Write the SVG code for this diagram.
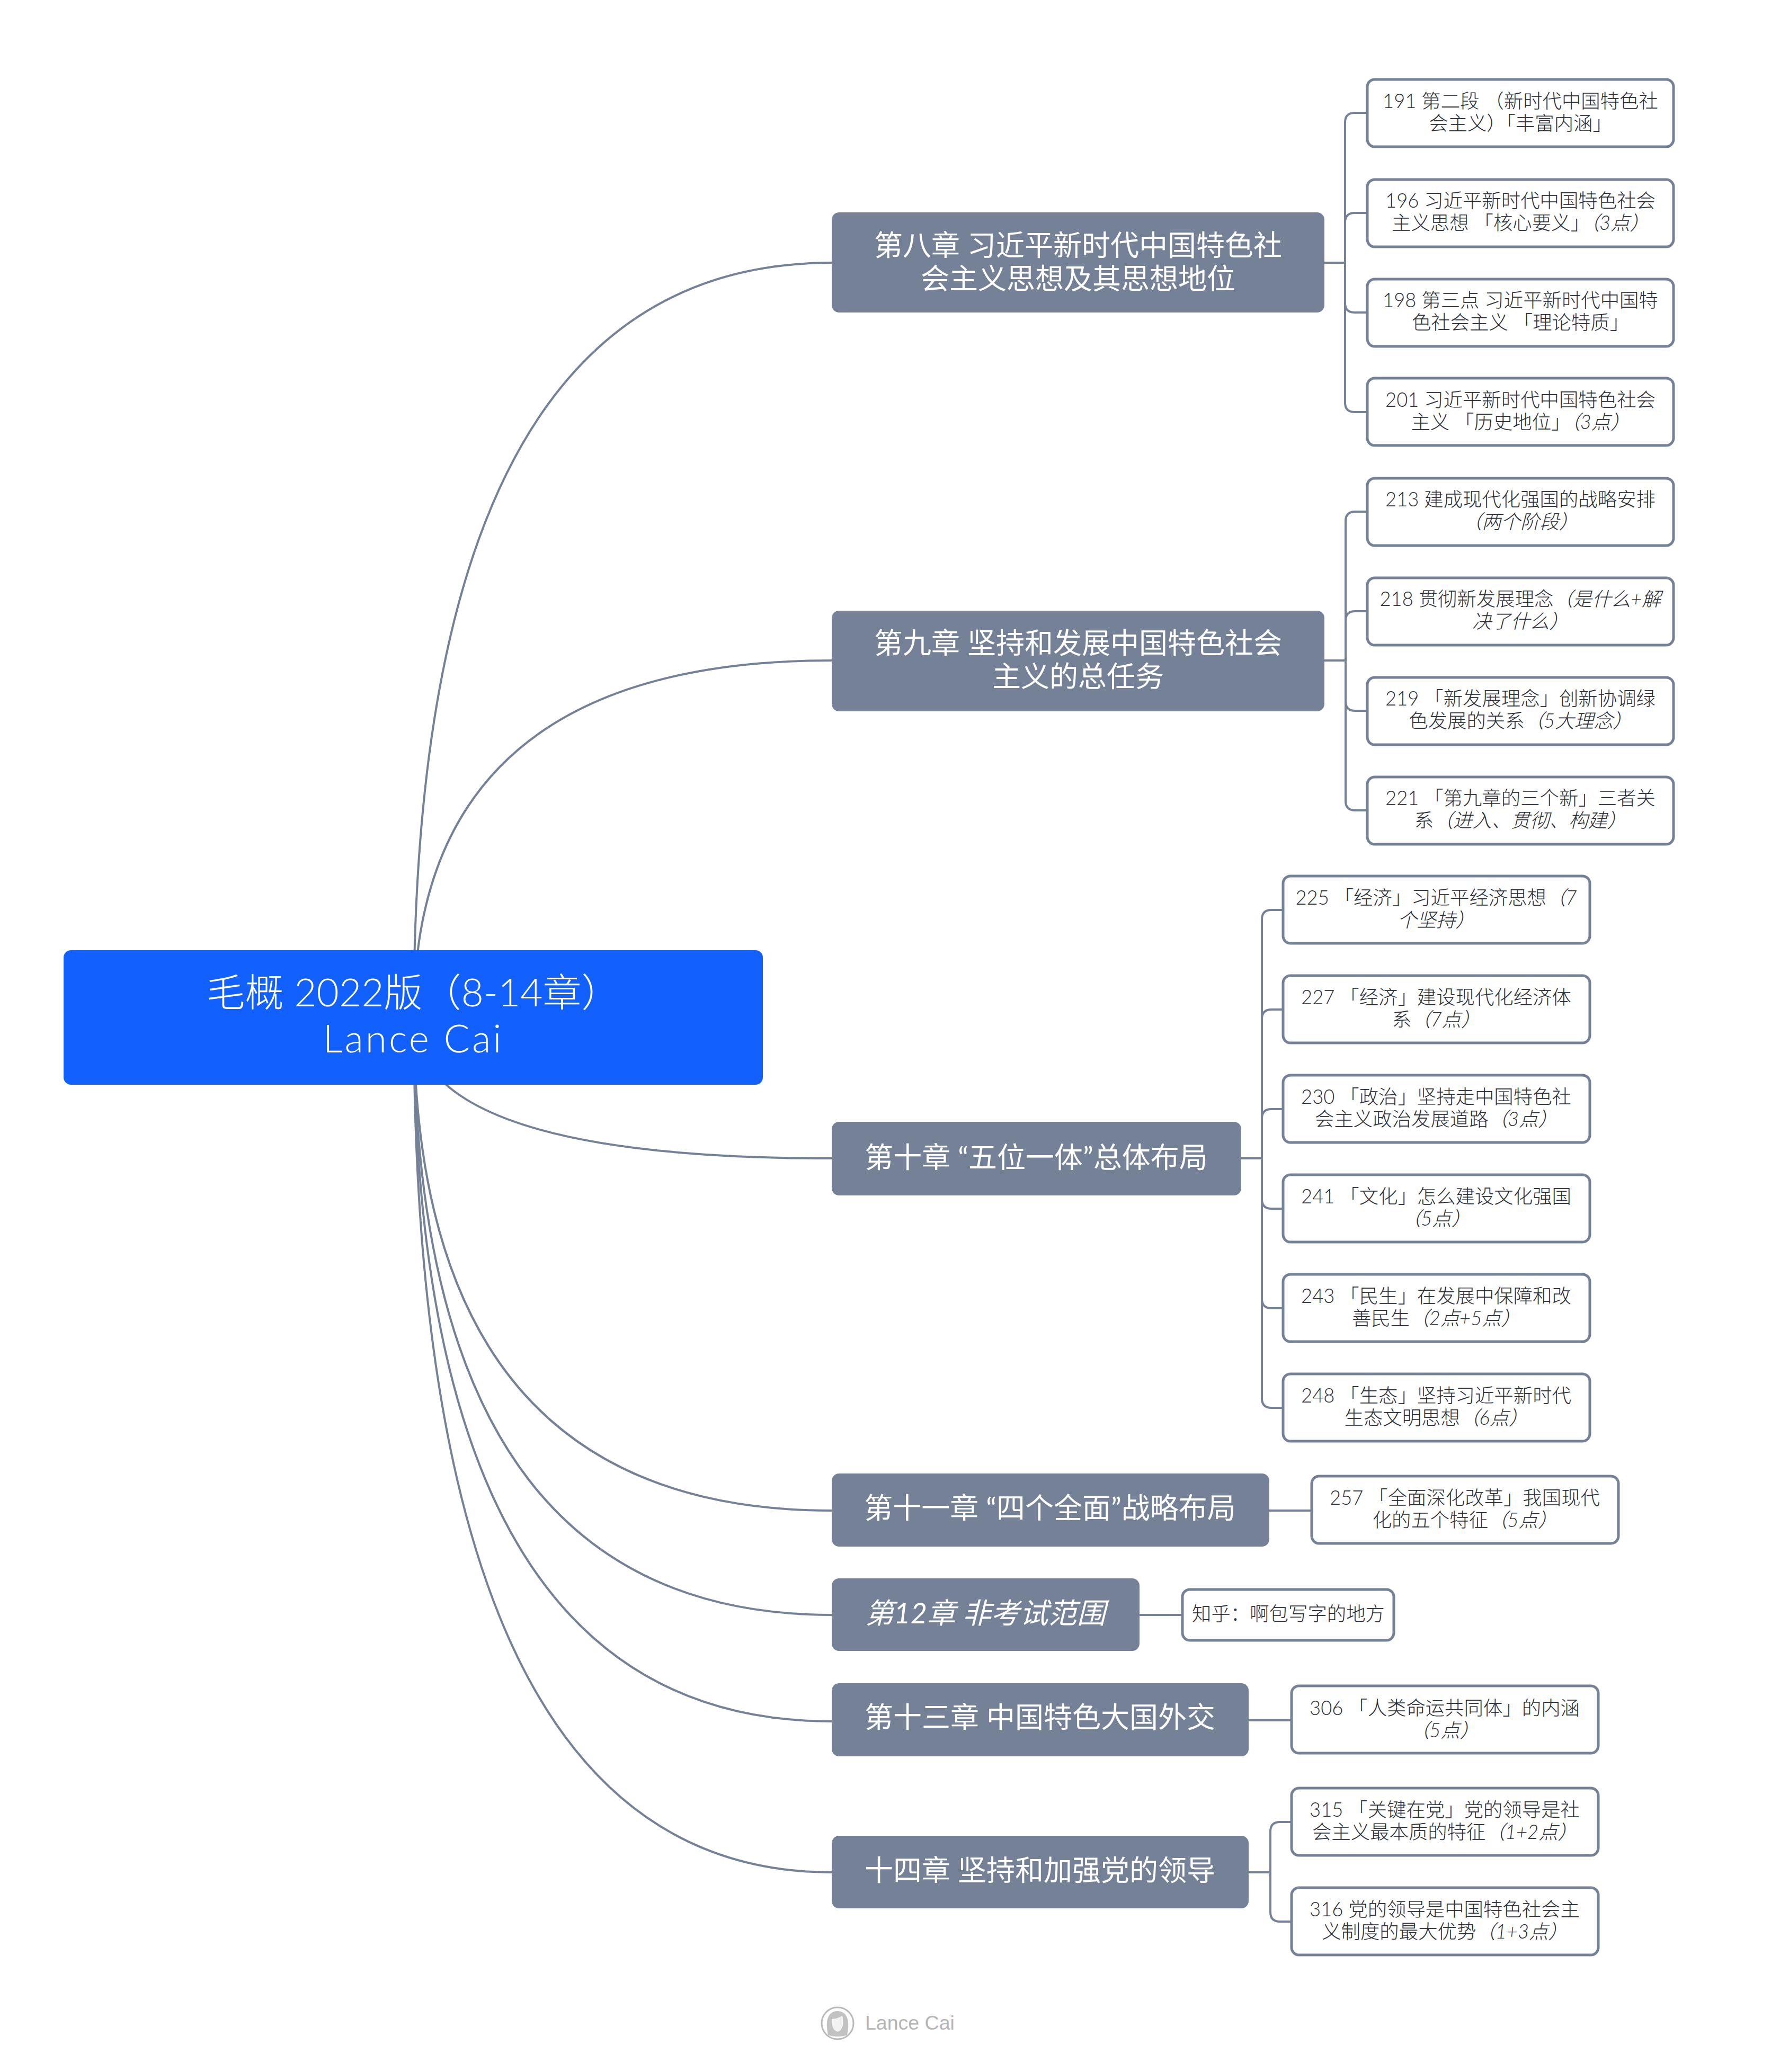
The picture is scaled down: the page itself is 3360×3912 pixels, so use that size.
<svg xmlns="http://www.w3.org/2000/svg" width="3360" height="3912" viewBox="0 0 3360 3912">
<style>
text{font-family:"Lato","Noto Sans CJK SC",sans-serif;text-anchor:middle}
.c{fill:none;stroke:#748196;stroke-width:4}
.r{fill:#1261ff}
.m{fill:#748196}
.l{fill:#fff;stroke:#748196;stroke-width:5}
.rt{font-size:73px;fill:#fff;font-weight:300}
.mt{font-size:54px;fill:#fff}
.lt{font-size:36.4px;fill:#2b303a;font-weight:300}
.i{font-style:italic}
</style>
<rect width="3360" height="3912" fill="#fff"/>
<g id="connectors">
<path class="c" d="M781 1920Q781 496 1570 496"/>
<path class="c" d="M781 1920Q781 1247 1570 1247"/>
<path class="c" d="M781 1920Q781 2187 1570 2187"/>
<path class="c" d="M781 1920Q781 2852 1570 2852"/>
<path class="c" d="M781 1920Q781 3049 1570 3049"/>
<path class="c" d="M781 1920Q781 3250 1570 3250"/>
<path class="c" d="M781 1920Q781 3535 1570 3535"/>
<path class="c" d="M2498 496H2539M2581 213H2557Q2539 213 2539 231V760Q2539 778 2557 778H2581M2557 402H2581M2557 590H2581M2539 420Q2539 402 2557 402M2539 572Q2539 590 2557 590"/>
<path class="c" d="M2498 1247H2540M2581 966H2558Q2540 966 2540 984V1512Q2540 1530 2558 1530H2581M2558 1154H2581M2558 1342H2581M2540 1172Q2540 1154 2558 1154M2540 1324Q2540 1342 2558 1342"/>
<path class="c" d="M2342 2187H2382M2420 1718H2400Q2382 1718 2382 1736V2640Q2382 2658 2400 2658H2420M2400 1906H2420M2400 2094H2420M2400 2282H2420M2400 2470H2420M2382 1924Q2382 1906 2400 1906M2382 2112Q2382 2094 2400 2094M2382 2264Q2382 2282 2400 2282M2382 2452Q2382 2470 2400 2470"/>
<path class="c" d="M2395 2852H2475"/>
<path class="c" d="M2150 3049H2232"/>
<path class="c" d="M2357 3248H2438"/>
<path class="c" d="M2357 3535H2398M2438 3440H2416Q2398 3440 2398 3458V3610Q2398 3628 2416 3628H2438"/>
</g>
<g id="root"><rect class="r" x="120" y="1794" width="1320" height="254" rx="14"/>
<text class="rt" x="780" y="1900">毛概 2022版（8-14章）</text><text class="rt" x="780" y="1987" style="letter-spacing:4px">Lance Cai</text></g>
<g id="ch8"><rect class="m" x="1570" y="401" width="930" height="189" rx="14"/>
<text class="mt" x="2035" y="483">第八章 习近平新时代中国特色社</text><text class="mt" x="2035" y="546">会主义思想及其思想地位</text></g>
<g id="ch9"><rect class="m" x="1570" y="1153" width="930" height="190" rx="14"/>
<text class="mt" x="2035" y="1234">第九章 坚持和发展中国特色社会</text><text class="mt" x="2035" y="1297">主义的总任务</text></g>
<g id="ch10"><rect class="m" x="1570" y="2118" width="773" height="139" rx="14"/>
<text class="mt" x="1956" y="2205">第十章 “五位一体”总体布局</text></g>
<g id="ch11"><rect class="m" x="1570" y="2782" width="826" height="138" rx="14"/>
<text class="mt" x="1982" y="2867">第十一章 “四个全面”战略布局</text></g>
<g id="ch12"><rect class="m" x="1570" y="2980" width="581" height="137" rx="14"/>
<text class="mt i" x="1860" y="3065">第12章 非考试范围</text></g>
<g id="ch13"><rect class="m" x="1570" y="3178" width="787" height="138" rx="14"/>
<text class="mt" x="1963" y="3262">第十三章 中国特色大国外交</text></g>
<g id="ch14"><rect class="m" x="1570" y="3466" width="787" height="137" rx="14"/>
<text class="mt" x="1963" y="3551">十四章 坚持和加强党的领导</text></g>
<g id="n191"><rect class="l" x="2581" y="150" width="578" height="127" rx="14"/><text class="lt" x="2870" y="204">191 第二段 （新时代中国特色社</text><text class="lt" x="2870" y="246">会主义）「丰富内涵」</text></g>
<g id="n196"><rect class="l" x="2581" y="339" width="578" height="127" rx="14"/><text class="lt" x="2870" y="392">196 习近平新时代中国特色社会</text><text class="lt" x="2870" y="434">主义思想 「核心要义」<tspan class="i">（3点）</tspan></text></g>
<g id="n198"><rect class="l" x="2581" y="527" width="578" height="127" rx="14"/><text class="lt" x="2870" y="580">198 第三点 习近平新时代中国特</text><text class="lt" x="2870" y="622">色社会主义 「理论特质」</text></g>
<g id="n201"><rect class="l" x="2581" y="714" width="578" height="127" rx="14"/><text class="lt" x="2870" y="768">201 习近平新时代中国特色社会</text><text class="lt" x="2870" y="810">主义 「历史地位」<tspan class="i">（3点）</tspan></text></g>
<g id="n213"><rect class="l" x="2581" y="903" width="578" height="127" rx="14"/><text class="lt" x="2870" y="956">213 建成现代化强国的战略安排</text><text class="lt i" x="2870" y="998">（两个阶段）</text></g>
<g id="n218"><rect class="l" x="2581" y="1091" width="578" height="127" rx="14"/><text class="lt" x="2870" y="1144">218 贯彻新发展理念<tspan class="i">（是什么+解</tspan></text><text class="lt i" x="2870" y="1186">决了什么）</text></g>
<g id="n219"><rect class="l" x="2581" y="1279" width="578" height="127" rx="14"/><text class="lt" x="2870" y="1332">219 「新发展理念」创新协调绿</text><text class="lt" x="2870" y="1374">色发展的关系<tspan class="i">（5大理念）</tspan></text></g>
<g id="n221"><rect class="l" x="2581" y="1467" width="578" height="127" rx="14"/><text class="lt" x="2870" y="1520">221 「第九章的三个新」三者关</text><text class="lt" x="2870" y="1562">系<tspan class="i">（进入、贯彻、构建）</tspan></text></g>
<g id="n225"><rect class="l" x="2422" y="1654" width="579" height="127" rx="14"/><text class="lt" x="2711" y="1708">225 「经济」习近平经济思想<tspan class="i">（7</tspan></text><text class="lt i" x="2711" y="1750">个坚持）</text></g>
<g id="n227"><rect class="l" x="2422" y="1842" width="579" height="127" rx="14"/><text class="lt" x="2711" y="1896">227 「经济」建设现代化经济体</text><text class="lt" x="2711" y="1938">系<tspan class="i">（7点）</tspan></text></g>
<g id="n230"><rect class="l" x="2422" y="2030" width="579" height="127" rx="14"/><text class="lt" x="2711" y="2084">230 「政治」坚持走中国特色社</text><text class="lt" x="2711" y="2126">会主义政治发展道路<tspan class="i">（3点）</tspan></text></g>
<g id="n241"><rect class="l" x="2422" y="2218" width="579" height="127" rx="14"/><text class="lt" x="2711" y="2272">241 「文化」怎么建设文化强国</text><text class="lt i" x="2711" y="2314">（5点）</text></g>
<g id="n243"><rect class="l" x="2422" y="2406" width="579" height="127" rx="14"/><text class="lt" x="2711" y="2460">243 「民生」在发展中保障和改</text><text class="lt" x="2711" y="2502">善民生<tspan class="i">（2点+5点）</tspan></text></g>
<g id="n248"><rect class="l" x="2422" y="2594" width="579" height="127" rx="14"/><text class="lt" x="2711" y="2648">248 「生态」坚持习近平新时代</text><text class="lt" x="2711" y="2690">生态文明思想<tspan class="i">（6点）</tspan></text></g>
<g id="n257"><rect class="l" x="2476" y="2787" width="579" height="127" rx="14"/><text class="lt" x="2765" y="2841">257 「全面深化改革」我国现代</text><text class="lt" x="2765" y="2883">化的五个特征<tspan class="i">（5点）</tspan></text></g>
<g id="nzh"><rect class="l" x="2232" y="3001" width="399" height="96" rx="14"/><text class="lt" x="2432" y="3060">知乎：啊包写字的地方</text></g>
<g id="n306"><rect class="l" x="2438" y="3183" width="579" height="127" rx="14"/><text class="lt" x="2727" y="3238">306 「人类命运共同体」的内涵</text><text class="lt i" x="2727" y="3280">（5点）</text></g>
<g id="n315"><rect class="l" x="2438" y="3376" width="579" height="127" rx="14"/><text class="lt" x="2727" y="3430">315 「关键在党」党的领导是社</text><text class="lt" x="2727" y="3472">会主义最本质的特征<tspan class="i">（1+2点）</tspan></text></g>
<g id="n316"><rect class="l" x="2438" y="3564" width="579" height="127" rx="14"/><text class="lt" x="2727" y="3618">316 党的领导是中国特色社会主</text><text class="lt" x="2727" y="3660">义制度的最大优势<tspan class="i">（1+3点）</tspan></text></g>
<g id="footer">
<circle cx="1581" cy="3820" r="30" fill="#fff" stroke="#b9b9b9" stroke-width="3"/>
<path d="M1563 3842C1557 3815 1563 3797 1581 3797C1599 3797 1605 3815 1599 3842C1592 3846 1570 3846 1563 3842Z" fill="#c2c2c2"/>
<path d="M1570 3812C1578 3812 1586 3808 1590 3806C1594 3822 1590 3834 1581 3836C1573 3834 1569 3824 1570 3812Z" fill="#f2f2f2"/>
<text x="1633" y="3832" style="font-family:'Liberation Sans',sans-serif;text-anchor:start;font-size:37.5px;fill:#b5b5b5">Lance Cai</text>
</g>
</svg>
